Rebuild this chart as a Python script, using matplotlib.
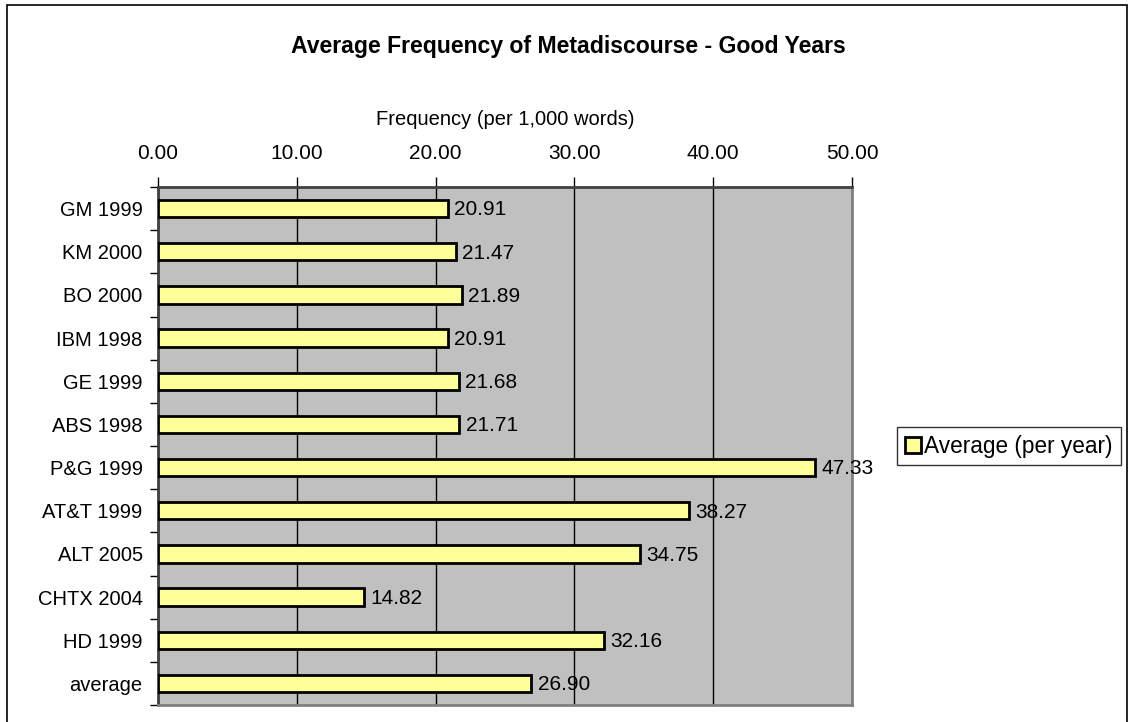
import numpy as np
import matplotlib
matplotlib.use("Agg")
from matplotlib import pyplot as plt
from matplotlib.patches import Rectangle, Patch

plt.rcParams['font.family'] = ['Liberation Sans', 'DejaVu Sans']

labels = ['GM 1999', 'KM 2000', 'BO 2000', 'IBM 1998', 'GE 1999', 'ABS 1998',
          'P&G 1999', 'AT&T 1999', 'ALT 2005', 'CHTX 2004', 'HD 1999', 'average']
values = [20.91, 21.47, 21.89, 20.91, 21.68, 21.71,
          47.33, 38.27, 34.75, 14.82, 32.16, 26.90]
xticks = [0, 10, 20, 30, 40, 50]

fig = plt.figure(figsize=(11.35, 7.22), dpi=100)
ax = fig.add_axes([158 / 1135, 17 / 722, 694 / 1135, 518 / 722])
ax.set_facecolor('#C0C0C0')

# outer chart border
fig.patches.append(Rectangle((7 / 1135, -0.05), 1120 / 1135, 1.043,
                             transform=fig.transFigure, fill=False,
                             edgecolor='black', linewidth=1.2))

y = np.arange(len(labels))
ax.barh(y, values, height=0.4, color='#FFFF99', edgecolor='black',
        linewidth=2.0, zorder=3)
for yi, v in zip(y, values):
    ax.text(v + 0.45, yi + 0.03, f'{v:.2f}', va='center', ha='left',
            fontsize=15, zorder=4)

ax.set_xlim(0, 50)
ax.set_ylim(len(labels) - 0.5, -0.5)
ax.xaxis.tick_top()
ax.xaxis.set_label_position('top')
ax.set_xticks(xticks)
ax.set_xticklabels([f'{t:.2f}' for t in xticks], fontsize=15)
ax.tick_params(axis='x', direction='out', length=7, width=1, pad=10, color='black')
ax.xaxis.grid(True, color='black', linewidth=1)
ax.set_axisbelow(True)
ax.set_xlabel('Frequency (per 1,000 words)', fontsize=14.5, labelpad=14)

ax.set_yticks(y)
ax.set_yticklabels(labels, fontsize=14.5)
ax.tick_params(axis='y', length=0, pad=11)
ax.set_yticks(np.arange(len(labels) + 1) - 0.5, minor=True)
ax.tick_params(axis='y', which='minor', direction='out', length=6, width=1, color='black')

ax.spines['left'].set_color('#404040')
ax.spines['left'].set_linewidth(2)
ax.spines['top'].set_color('#404040')
ax.spines['top'].set_linewidth(2)
ax.spines['right'].set_color('#808080')
ax.spines['right'].set_linewidth(2)
ax.spines['bottom'].set_color('#808080')
ax.spines['bottom'].set_linewidth(2)

fig.text(568 / 1135, 1 - 47 / 722,
         'Average Frequency of Metadiscourse - Good Years',
         ha='center', va='center', fontsize=16.6, fontweight='bold')

handle = Patch(facecolor='#FFFF99', edgecolor='black', linewidth=2)
leg = fig.legend([handle], ['Average (per year)'], loc='center left',
                 bbox_to_anchor=(897 / 1135, 1 - 446 / 722), fontsize=16.3,
                 frameon=True, fancybox=False, edgecolor='black',
                 handlelength=0.7, handleheight=0.7, handletextpad=0.15,
                 borderpad=0.35, borderaxespad=0)
leg.get_frame().set_linewidth(1)

fig.savefig('out.png', dpi=100)
